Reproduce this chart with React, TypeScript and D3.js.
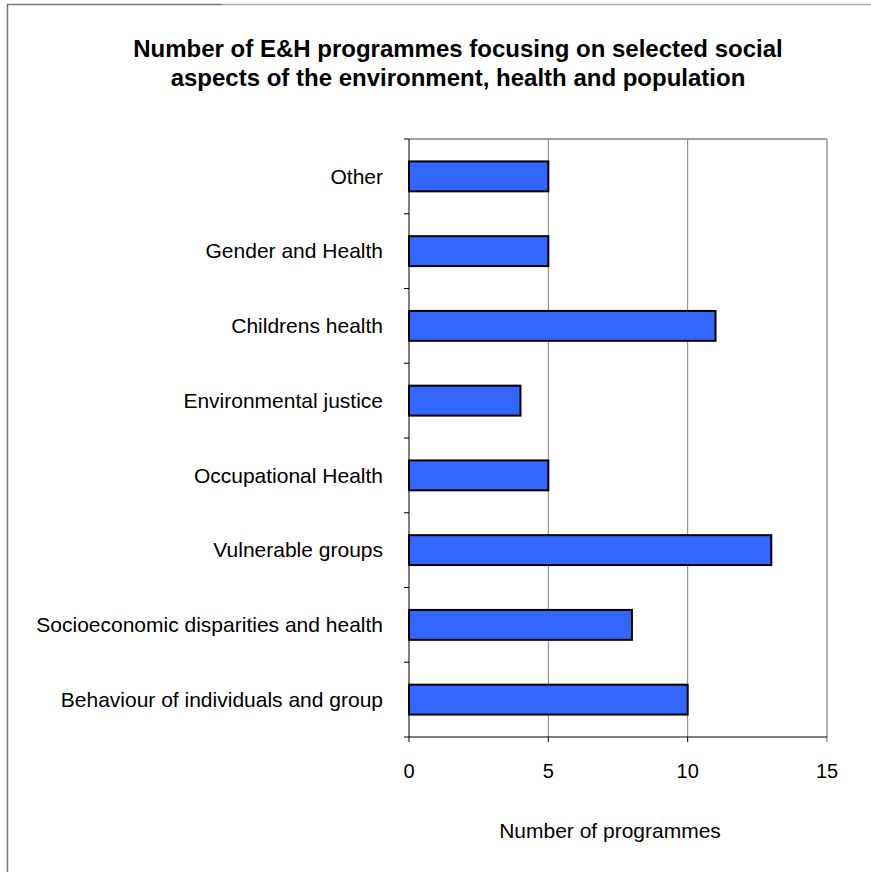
import React from "react";
import * as d3 from "d3";

const categories = [
  "Other",
  "Gender and Health",
  "Childrens health",
  "Environmental justice",
  "Occupational Health",
  "Vulnerable groups",
  "Socioeconomic disparities and health",
  "Behaviour of individuals and group",
];
const values = [5, 5, 11, 4, 5, 13, 8, 10];
const xTicks = [0, 5, 10, 15];
const titleLines = [
  "Number of E&H programmes focusing on selected social",
  "aspects of the environment, health and population",
];
const xTitle = "Number of programmes";

export default function App() {
  const W = 871, H = 872;
  const left = 409, right = 827, top = 139, bottom = 737;
  const x = d3.scaleLinear().domain([0, 15]).range([left, right]);
  const y = d3.scaleBand().domain(categories).range([top, bottom]).paddingInner(0.6).paddingOuter(0.3);
  const band = (bottom - top) / categories.length;
  const font = "Arial, 'Liberation Sans', sans-serif";
  return (
    <svg width={W} height={H} style={{ position: "absolute", left: 0, top: 0, background: "#fff" }} fontFamily={font}>
      <path d={`M7.5,${H} V4.5 H222`} fill="none" stroke="#777" strokeWidth={1.5} />
      <path d={`M222,4.5 H${W}`} fill="none" stroke="#aaa" strokeWidth={1.5} />
      {titleLines.map((t, i) => (
        <text key={i} x={458} y={57 + i * 29} textAnchor="middle" fontWeight="bold" fontSize={24} fill="#000">{t}</text>
      ))}
      {xTicks.slice(1, -1).map((t) => (
        <line key={t} x1={x(t)} x2={x(t)} y1={top} y2={bottom} stroke="#808080" strokeWidth={1} />
      ))}
      <line x1={left} x2={right} y1={top} y2={top} stroke="#808080" strokeWidth={1.5} />
      <line x1={right} x2={right} y1={top} y2={bottom + 5} stroke="#999" strokeWidth={1.5} />
      {categories.map((c, i) => (
        <rect key={c} x={x(0)} y={y(c)!} width={x(values[i]) - x(0)} height={y.bandwidth()} fill="#3366FF" stroke="#000" strokeWidth={2} />
      ))}
      <line x1={left} x2={left} y1={top} y2={bottom} stroke="#000" strokeWidth={1} />
      <line x1={left} x2={right} y1={bottom} y2={bottom} stroke="#000" strokeWidth={1} />
      {d3.range(categories.length + 1).map((i) => (
        <line key={i} x1={left - 5} x2={left} y1={top + i * band} y2={top + i * band} stroke="#000" strokeWidth={1} />
      ))}
      {xTicks.slice(0, -1).map((t) => (
        <line key={t} x1={x(t)} x2={x(t)} y1={bottom} y2={bottom + 5} stroke="#000" strokeWidth={1} />
      ))}
      {categories.map((c) => (
        <text key={c} x={383} y={y(c)! + y.bandwidth() / 2} dy="0.35em" textAnchor="end" fontSize={21} fill="#000">{c}</text>
      ))}
      {xTicks.map((t) => (
        <text key={t} x={x(t)} y={778} textAnchor="middle" fontSize={20} fill="#000">{t}</text>
      ))}
      <text x={610} y={838} textAnchor="middle" fontSize={21} fill="#000">{xTitle}</text>
    </svg>
  );
}
